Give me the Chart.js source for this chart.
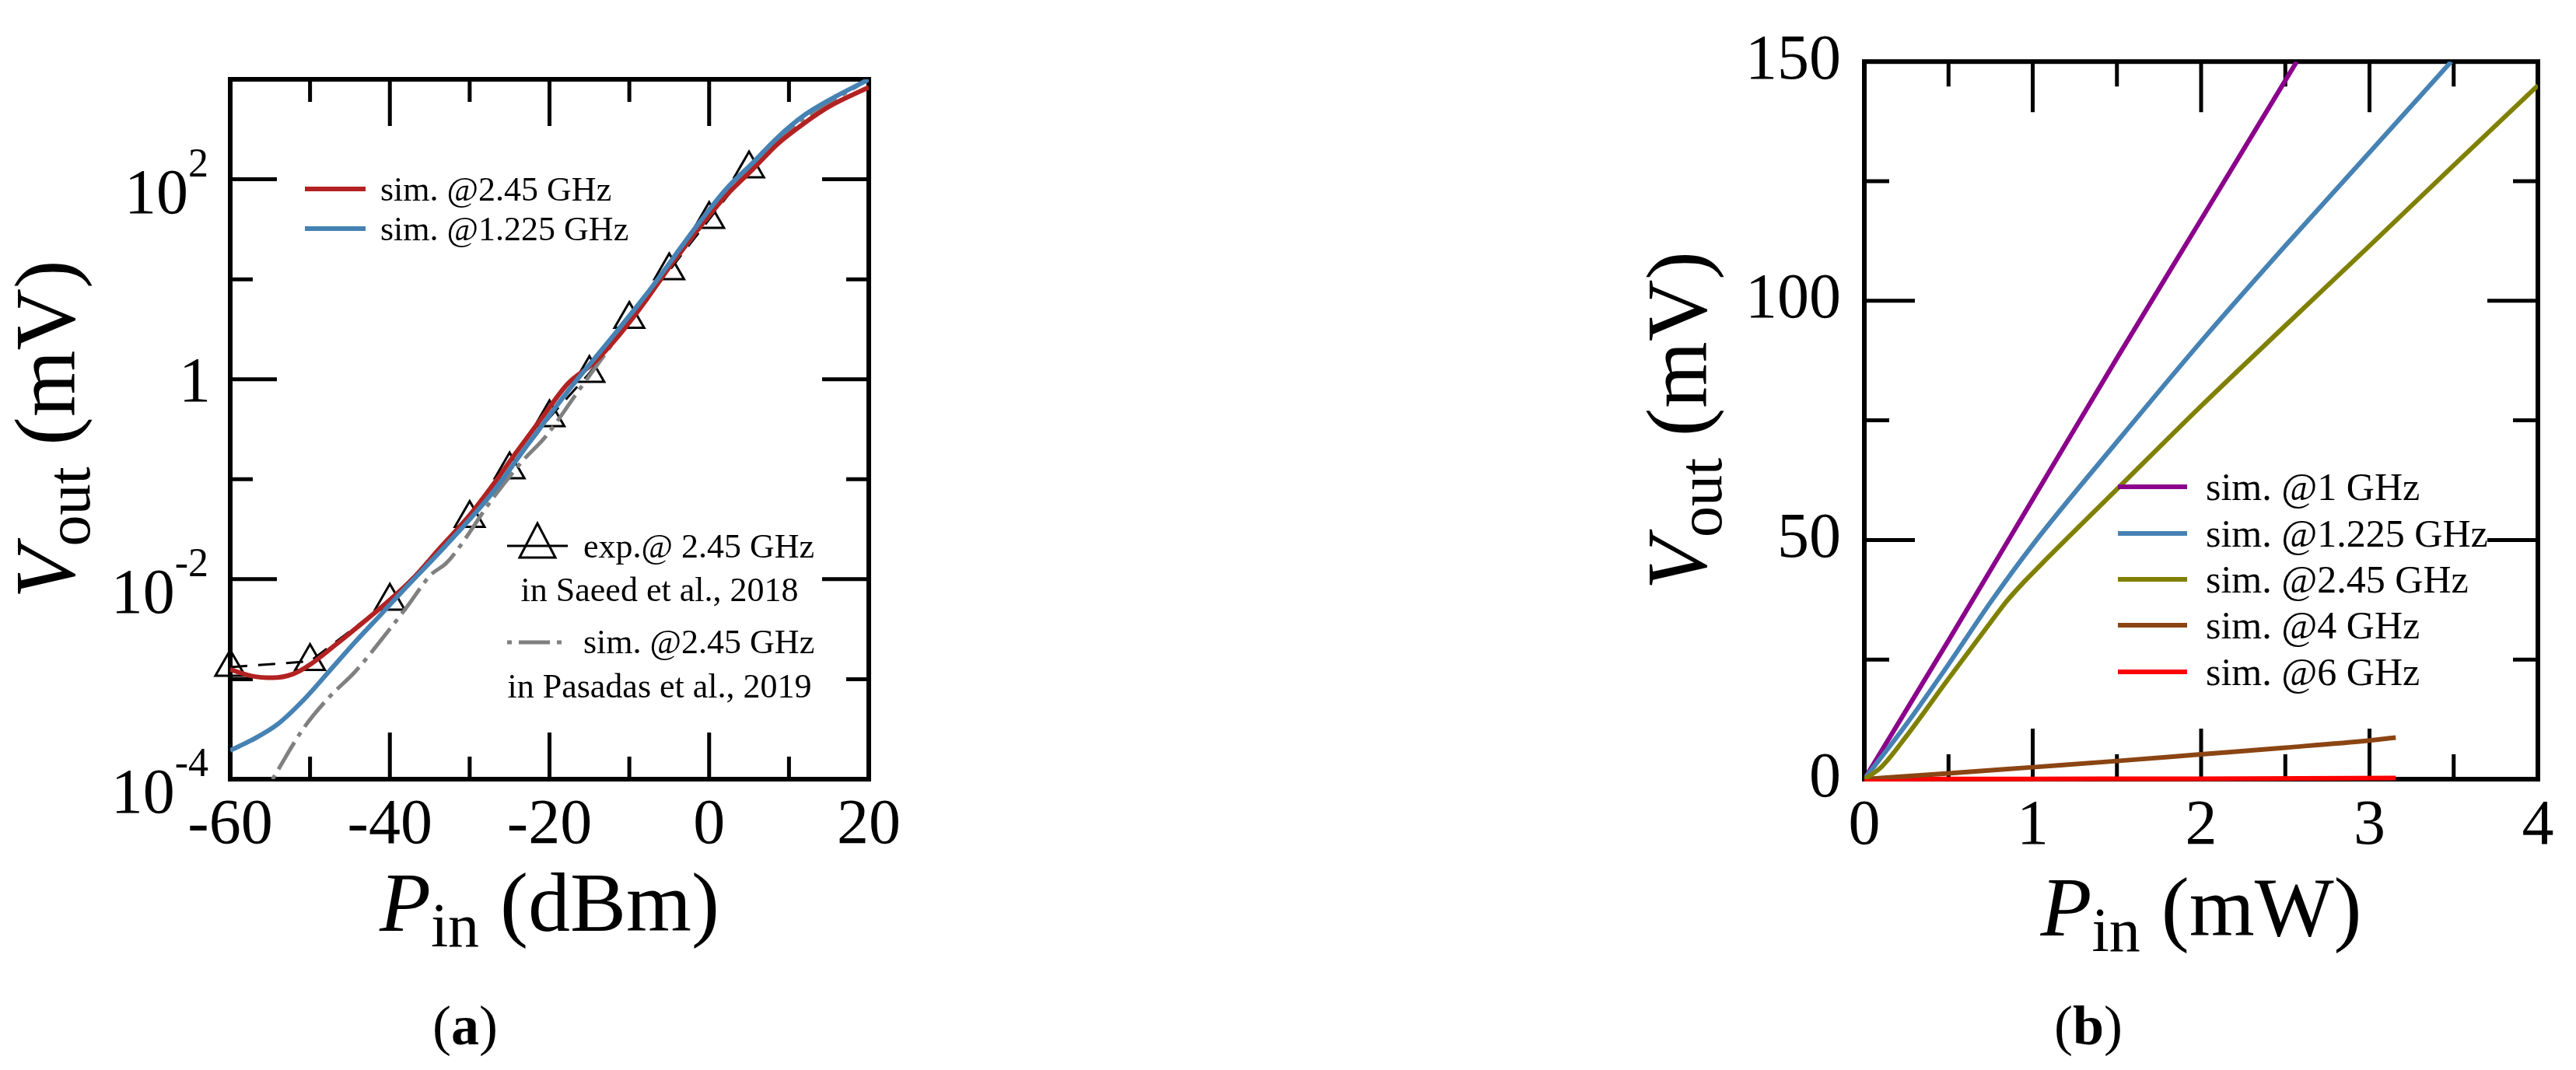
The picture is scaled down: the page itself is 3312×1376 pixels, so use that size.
<!DOCTYPE html>
<html><head><meta charset="utf-8">
<script src="https://cdn.jsdelivr.net/npm/chart.js@4.4.1/dist/chart.umd.min.js"></script>
<style>
html,body{margin:0;padding:0;background:#fff;}
body{width:3312px;height:1376px;position:relative;overflow:hidden;}
#wa{position:absolute;left:0;top:0;width:1300px;height:1376px;}
#wb{position:absolute;left:1800px;top:0;width:1512px;height:1376px;}
</style></head><body>
<div id="wa"><canvas id="ca"></canvas></div>
<div id="wb"><canvas id="cb"></canvas></div>
<script>
// ================= DATA: panel (a) =================
const pinRedA  = [-60,-57.3,-54.7,-52.1,-49.9,-46.9,-43.7,-40.4,-37.2,-33.6,-30,-27.4,-24.2,-20.9,-17.7,-14.45,-11.2,-7.95,-5,-1.13,2.1,5.4,8.6,11.9,15.1,20];
const voutRedA = [0.00125,0.001076,0.001033,0.00113,0.001416,0.002178,0.003508,0.005821,0.01,0.02104,0.0437,0.0813,0.184,0.417,0.904,1.459,2.812,6.11,13.2,33.5,68.4,124.5,226.5,363.1,537,831.8];

const pinBlueA  = [-60,-57.3,-54.1,-50.8,-47.6,-44.3,-41.1,-37.8,-33,-27.4,-22.6,-17.7,-12.8,-7.95,-1.13,2.1,5.4,8.6,11.9,15.1,20];
const voutBlueA = [0.000194,0.000246,0.000352,0.000621,0.0012,0.00238,0.00446,0.00859,0.0217,0.0692,0.229,0.759,2.28,6.92,37.8,79.4,144.5,263,436.5,624,1000];

const pinGrayA  = [-54.7,-50.8,-47.6,-44.3,-41.1,-37.8,-34.9,-33,-32,-27,-23.3,-20.5,-16.4,-9.6,-5.2,-0.16,2.1,5.4,8.6,11.9,15.1,18.7];
const voutGrayA = [0.0001,0.000324,0.000661,0.0012,0.00246,0.00537,0.011,0.0143,0.0176,0.0661,0.155,0.266,0.759,4.27,12.4,41.2,69.2,131.8,245.5,398,589,871];

const pinExpA  = [-60,-50,-40,-30,-25,-20,-15,-10,-5,0,5];
const voutExpA = [0.00132,0.00151,0.00603,0.0407,0.1245,0.414,1.148,3.98,12.2,39.8,127.6];

const labelsA = ['sim. @2.45 GHz','sim. @1.225 GHz','exp.@ 2.45 GHz','in Saeed et al., 2018','sim. @2.45 GHz','in Pasadas et al., 2019'];

const xMajorA = [-40,-20,0];
const xMinorA = [-50,-30,-10,10];
const yMajorA = [100,1,0.01];
const yMinorA = [10,0.1,0.001];
const yTickValsA = [100,1,0.01,0.0001];
const yTickBaseA = ['10','1','10','10'];
const yTickExpA  = ['2','','-2','-4'];

// ================= DATA: panel (b) =================
const pinB1    = [0,0.5,1,1.5,2,2.568];
const voutB1   = [0,29,58.5,88,117,150];
const pinB1225 = [0,0.25,0.5,0.75,1,1.5,2,2.5,3,3.485];
const voutB1225= [0,11.5,24,37,49,70.5,91.5,111.5,131,150];
const pinB245  = [0,0.1,0.25,0.5,0.75,0.85,0.95,1.05,1.5,2,2.5,3,3.5,4];
const voutB245 = [0,2.5,9,21,32.8,37.4,41.3,44.9,60.6,78,94.8,111.5,128.3,145];
const pinB4    = [0,0.5,1,1.5,2,2.5,3,3.156];
const voutB4   = [0,1.2,2.5,3.8,5.2,6.6,8.1,8.7];
const pinB6    = [0,1,2,2.9,3.156];
const voutB6   = [0,0.05,0.1,0.2,0.25];

const labelsB = ['sim. @1 GHz','sim. @1.225 GHz','sim. @2.45 GHz','sim. @4 GHz','sim. @6 GHz'];

const xMajorB = [1,2,3];
const xMinorB = [0.5,1.5,2.5,3.5];
const yMajorB = [50,100];
const yMinorB = [25,75,125];

// ================= helpers =================
const FONT = '"Liberation Serif", "Times New Roman", serif';
const pts = (xs, ys) => xs.map((x, i) => ({x: x, y: ys[i]}));

function drawSegs(ctx, segs, x, y, align) {
  let total = 0;
  segs.forEach(s => { ctx.font = s.f; s.w = ctx.measureText(s.t).width; total += s.w; });
  let cx = align === 'center' ? x - total / 2 : (align === 'right' ? x - total : x);
  ctx.textBaseline = 'alphabetic';
  ctx.textAlign = 'left';
  segs.forEach(s => { ctx.font = s.f; ctx.fillText(s.t, cx, y + (s.dy || 0)); cx += s.w; });
}

const framePlugin = {
  id: 'frame',
  beforeDatasetsDraw(chart, args, o) {
    const {ctx, chartArea: a, scales} = chart;
    ctx.save();
    ctx.strokeStyle = '#000';
    ctx.lineWidth = 5;
    ctx.lineCap = 'butt';
    const xs = scales.x, ys = scales.y;
    const vt = (v, len) => {
      const p = xs.getPixelForValue(v);
      ctx.beginPath();
      ctx.moveTo(p, a.bottom); ctx.lineTo(p, a.bottom - len);
      ctx.moveTo(p, a.top); ctx.lineTo(p, a.top + len);
      ctx.stroke();
    };
    const ht = (v, len) => {
      const p = ys.getPixelForValue(v);
      ctx.beginPath();
      ctx.moveTo(a.left, p); ctx.lineTo(a.left + len, p);
      ctx.moveTo(a.right, p); ctx.lineTo(a.right - len, p);
      ctx.stroke();
    };
    o.xMajor.forEach(v => vt(v, o.long));
    o.xMinor.forEach(v => vt(v, o.short));
    o.yMajor.forEach(v => ht(v, o.long));
    o.yMinor.forEach(v => ht(v, o.short));
    ctx.lineWidth = 6;
    ctx.strokeRect(a.left, a.top, a.right - a.left, a.bottom - a.top);
    ctx.restore();
  }
};

// ---------- decorations panel (a) ----------
const decorA = {
  id: 'decorA',
  afterDraw(chart) {
    const {ctx, chartArea: a, scales} = chart;
    ctx.save();
    ctx.fillStyle = '#000';
    yTickValsA.forEach((v, i) => {
      const py = scales.y.getPixelForValue(v);
      if (yTickExpA[i]) {
        drawSegs(ctx, [
          {t: yTickBaseA[i], f: '82px ' + FONT, dy: 43},
          {t: yTickExpA[i], f: '52px ' + FONT, dy: -4}
        ], a.left - 28, py, 'right');
      } else {
        drawSegs(ctx, [{t: yTickBaseA[i], f: '82px ' + FONT, dy: 28}], a.left - 25, py, 'right');
      }
    });
    drawSegs(ctx, [
      {t: 'P', f: 'italic 108px ' + FONT},
      {t: 'in', f: '80px ' + FONT, dy: 20},
      {t: ' (dBm)', f: '108px ' + FONT}
    ], (a.left + a.right) / 2, 1197, 'center');
    ctx.save();
    ctx.translate(95, (a.top + a.bottom) / 2);
    ctx.rotate(-Math.PI / 2);
    drawSegs(ctx, [
      {t: 'V', f: 'italic 110px ' + FONT},
      {t: 'out', f: '80px ' + FONT, dy: 20},
      {t: ' (mV)', f: '110px ' + FONT}
    ], 0, 0, 'center');
    ctx.restore();
    const ds = chart.data.datasets;
    const rows1 = [{d: ds[1], y: 243}, {d: ds[0], y: 294}];
    rows1.forEach(r => {
      ctx.strokeStyle = r.d.borderColor; ctx.lineWidth = 6; ctx.setLineDash([]);
      ctx.beginPath(); ctx.moveTo(392, r.y); ctx.lineTo(470, r.y); ctx.stroke();
      drawSegs(ctx, [{t: r.d.label, f: '44px ' + FONT}], 489, r.y + 15, 'left');
    });
    ctx.strokeStyle = '#000'; ctx.lineWidth = 3; ctx.setLineDash([]);
    ctx.beginPath(); ctx.moveTo(652, 702); ctx.lineTo(730, 702); ctx.stroke();
    ctx.beginPath(); ctx.moveTo(691, 673); ctx.lineTo(714, 717); ctx.lineTo(668, 717); ctx.closePath(); ctx.stroke();
    drawSegs(ctx, [{t: labelsA[2], f: '44px ' + FONT}], 750, 717, 'left');
    drawSegs(ctx, [{t: labelsA[3], f: '44px ' + FONT}], 848, 773, 'center');
    ctx.strokeStyle = ds[2].borderColor; ctx.lineWidth = 5; ctx.setLineDash([6, 9, 40, 9]);
    ctx.beginPath(); ctx.moveTo(652, 826); ctx.lineTo(722, 826); ctx.stroke();
    ctx.setLineDash([]);
    drawSegs(ctx, [{t: labelsA[4], f: '44px ' + FONT}], 750, 840, 'left');
    drawSegs(ctx, [{t: labelsA[5], f: '44px ' + FONT}], 848, 897, 'center');
    drawSegs(ctx, [
      {t: '(', f: '72px ' + FONT}, {t: 'a', f: 'bold 72px ' + FONT}, {t: ')', f: '72px ' + FONT}
    ], 598, 1343, 'center');
    ctx.restore();
  }
};

// ---------- decorations panel (b) ----------
const decorB = {
  id: 'decorB',
  afterDraw(chart) {
    const {ctx, chartArea: a} = chart;
    ctx.save();
    ctx.fillStyle = '#000';
    drawSegs(ctx, [
      {t: 'P', f: 'italic 108px ' + FONT},
      {t: 'in', f: '80px ' + FONT, dy: 20},
      {t: ' (mW)', f: '108px ' + FONT}
    ], (a.left + a.right) / 2, 1203, 'center');
    ctx.save();
    ctx.translate(a.left - 204, (a.top + a.bottom) / 2);
    ctx.rotate(-Math.PI / 2);
    drawSegs(ctx, [
      {t: 'V', f: 'italic 110px ' + FONT},
      {t: 'out', f: '80px ' + FONT, dy: 20},
      {t: ' (mV)', f: '110px ' + FONT}
    ], 0, 0, 'center');
    ctx.restore();
    const rowsY = [626, 686, 745, 804, 864];
    chart.data.datasets.forEach((d, i) => {
      ctx.strokeStyle = d.borderColor; ctx.lineWidth = 6;
      ctx.beginPath(); ctx.moveTo(923, rowsY[i]); ctx.lineTo(1012, rowsY[i]); ctx.stroke();
      drawSegs(ctx, [{t: d.label, f: '50px ' + FONT}], 1036, rowsY[i] + 17, 'left');
    });
    drawSegs(ctx, [
      {t: '(', f: '72px ' + FONT}, {t: 'b', f: 'bold 72px ' + FONT}, {t: ')', f: '72px ' + FONT}
    ], 885, 1343, 'center');
    ctx.restore();
  }
};

const tickFont = {family: FONT, size: 82, lineHeight: 1.2};

// ================= chart (a) =================
new Chart(document.getElementById('ca'), {
  type: 'scatter',
  data: {
    datasets: [
      {label: labelsA[1], data: pts(pinBlueA, voutBlueA), showLine: true, borderColor: '#4682B4', borderWidth: 6, pointRadius: 0, cubicInterpolationMode: 'monotone', order: 0},
      {label: labelsA[0], data: pts(pinRedA, voutRedA), showLine: true, borderColor: '#B22222', borderWidth: 6, pointRadius: 0, cubicInterpolationMode: 'monotone', order: 1},
      {label: labelsA[4], data: pts(pinGrayA, voutGrayA), showLine: true, borderColor: '#808080', borderWidth: 5, borderDash: [6, 9, 40, 9], pointRadius: 0, cubicInterpolationMode: 'monotone', order: 2},
      {label: labelsA[2], data: pts(pinExpA, voutExpA), showLine: true, borderColor: '#000', borderWidth: 3, borderDash: [22, 14], pointStyle: 'triangle', pointRadius: 22, pointBorderWidth: 3, pointBorderColor: '#000', pointBackgroundColor: 'rgba(0,0,0,0)', clip: false, order: 3}
    ]
  },
  options: {
    responsive: true, maintainAspectRatio: false, animation: false, events: [], locale: 'en-US',
    layout: {padding: {left: 0, top: 102, right: 183, bottom: 0}},
    plugins: {
      legend: {display: false}, tooltip: {enabled: false},
      frame: {xMajor: xMajorA, xMinor: xMinorA, yMajor: yMajorA, yMinor: yMinorA, long: 60, short: 29}
    },
    scales: {
      x: {type: 'linear', position: 'bottom', min: -60, max: 20,
          ticks: {stepSize: 20, color: '#000', font: tickFont, padding: 11, maxRotation: 0, autoSkip: false},
          grid: {display: false, drawTicks: false}, border: {display: false},
          afterFit: s => { s.height = 374; }},
      y: {type: 'logarithmic', position: 'left', min: 1e-4, max: 1e3,
          ticks: {display: false},
          grid: {display: false, drawTicks: false}, border: {display: false},
          afterFit: s => { s.width = 296; }}
    }
  },
  plugins: [framePlugin, decorA]
});

// ================= chart (b) =================
new Chart(document.getElementById('cb'), {
  type: 'scatter',
  data: {
    datasets: [
      {label: labelsB[0], data: pts(pinB1, voutB1), showLine: true, borderColor: '#8B008B', borderWidth: 6, pointRadius: 0, cubicInterpolationMode: 'monotone', order: 2},
      {label: labelsB[1], data: pts(pinB1225, voutB1225), showLine: true, borderColor: '#4682B4', borderWidth: 6, pointRadius: 0, cubicInterpolationMode: 'monotone', order: 1},
      {label: labelsB[2], data: pts(pinB245, voutB245), showLine: true, borderColor: '#808000', borderWidth: 6, pointRadius: 0, cubicInterpolationMode: 'monotone', order: 0},
      {label: labelsB[3], data: pts(pinB4, voutB4), showLine: true, borderColor: '#8B4513', borderWidth: 6, pointRadius: 0, cubicInterpolationMode: 'monotone', order: 3},
      {label: labelsB[4], data: pts(pinB6, voutB6), showLine: true, borderColor: '#FF0000', borderWidth: 6, pointRadius: 0, cubicInterpolationMode: 'monotone', clip: 8, order: 4}
    ]
  },
  options: {
    responsive: true, maintainAspectRatio: false, animation: false, events: [], locale: 'en-US',
    layout: {padding: {left: 0, top: 51, right: 49, bottom: 0}},
    plugins: {
      legend: {display: false}, tooltip: {enabled: false},
      frame: {xMajor: xMajorB, xMinor: xMinorB, yMajor: yMajorB, yMinor: yMinorB, long: 65, short: 32}
    },
    scales: {
      x: {type: 'linear', position: 'bottom', min: 0, max: 4,
          ticks: {stepSize: 1, color: '#000', font: tickFont, padding: 12, maxRotation: 0, autoSkip: false},
          grid: {display: false, drawTicks: false}, border: {display: false},
          afterFit: s => { s.height = 374; }},
      y: {type: 'linear', position: 'left', min: 0, max: 150,
          ticks: {stepSize: 50, color: '#000', font: tickFont, padding: 30},
          grid: {display: false, drawTicks: false}, border: {display: false},
          afterFit: s => { s.width = 597; }}
    }
  },
  plugins: [framePlugin, decorB]
});
</script>
</body></html>
